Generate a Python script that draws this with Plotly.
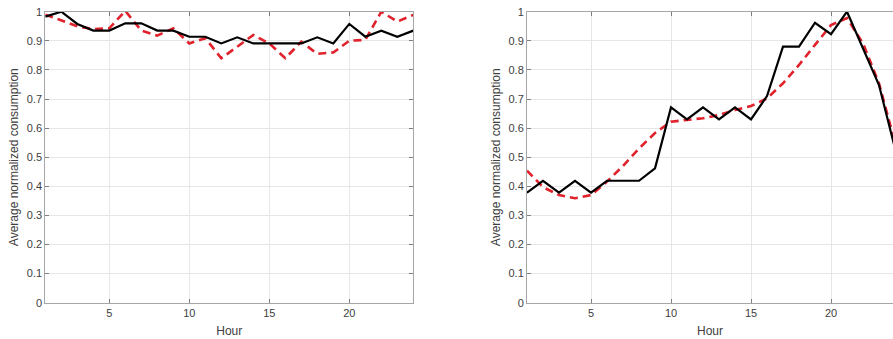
import plotly.graph_objects as go

hours = list(range(1, 25))

# Left panel
left_actual = [0.983, 1.0, 0.958, 0.935, 0.935, 0.960, 0.960, 0.935, 0.935, 0.914, 0.914, 0.891,
               0.912, 0.891, 0.891, 0.891, 0.891, 0.912, 0.891, 0.958, 0.914, 0.935, 0.914, 0.935]
left_model = [0.990, 0.970, 0.950, 0.940, 0.943, 1.003, 0.935, 0.918, 0.943, 0.891, 0.909, 0.840,
              0.880, 0.920, 0.891, 0.840, 0.897, 0.855, 0.860, 0.900, 0.903, 1.000, 0.966, 0.989]

# Right panel
right_actual = [0.378, 0.419, 0.378, 0.419, 0.378, 0.419, 0.419, 0.419, 0.462, 0.671, 0.630, 0.671,
                0.630, 0.671, 0.630, 0.710, 0.880, 0.880, 0.962, 0.923, 1.000, 0.874, 0.748, 0.530]
right_model = [0.454, 0.397, 0.370, 0.359, 0.370, 0.416, 0.470, 0.530, 0.583, 0.622, 0.628, 0.634,
               0.645, 0.662, 0.676, 0.702, 0.754, 0.817, 0.886, 0.954, 0.978, 0.891, 0.754, 0.550]

x_ticks = [5, 10, 15, 20]
y_ticks = [0, 0.1, 0.2, 0.3, 0.4, 0.5, 0.6, 0.7, 0.8, 0.9, 1]
y_tick_text = ["0", "0.1", "0.2", "0.3", "0.4", "0.5", "0.6", "0.7", "0.8", "0.9", "1"]

RED = "#e0222c"
W, H = 893, 339

fig = go.Figure()
for xa, ya, act, mod in [("x", "y", left_actual, left_model), ("x2", "y2", right_actual, right_model)]:
    fig.add_trace(go.Scatter(x=hours, y=mod, mode="lines", xaxis=xa, yaxis=ya,
                             line=dict(color=RED, width=2.6, dash="8px,5px"), showlegend=False))
    fig.add_trace(go.Scatter(x=hours, y=act, mode="lines", xaxis=xa, yaxis=ya,
                             line=dict(color="black", width=2.2), showlegend=False))

font = dict(family="Liberation Sans, Arial, sans-serif", size=11, color="#404040")
tfont = dict(family="Liberation Sans, Arial, sans-serif", size=12, color="#404040")
ydom = [(H - 302.7) / H, (H - 11.7) / H]

common_x = dict(tickvals=x_ticks, ticks="inside", ticklen=4, tickcolor="#808080",
                showline=True, linecolor="#a6a6a6", linewidth=1, showgrid=True,
                gridcolor="#e6e6e6", zeroline=False, tickfont=font,
                title=dict(text="Hour", font=tfont, standoff=8), automargin=False)
common_y = dict(range=[0, 1], tickvals=y_ticks, ticktext=y_tick_text, ticks="inside", ticklen=4,
                tickcolor="#808080", showline=True, linecolor="#a6a6a6", linewidth=1,
                showgrid=True, gridcolor="#e6e6e6", zeroline=False, tickfont=font,
                title=dict(text="Average normalized consumption", font=tfont, standoff=5),
                automargin=False, domain=ydom)

fig.update_layout(
    width=W, height=H, margin=dict(l=0, r=0, t=0, b=0),
    paper_bgcolor="white", plot_bgcolor="white",
    xaxis=dict(common_x, range=[1, 24], domain=[45.3 / W, 413.3 / W], anchor="y", mirror="ticks"),
    yaxis=dict(common_y, anchor="x", mirror="ticks"),
    xaxis2=dict(common_x, range=[1, 1 + (W - 527) / 16], domain=[527 / W, 1.0], anchor="y2", mirror="ticks"),
    yaxis2=dict(common_y, anchor="x2", mirror=False),
)

fig.write_html("out.html")
